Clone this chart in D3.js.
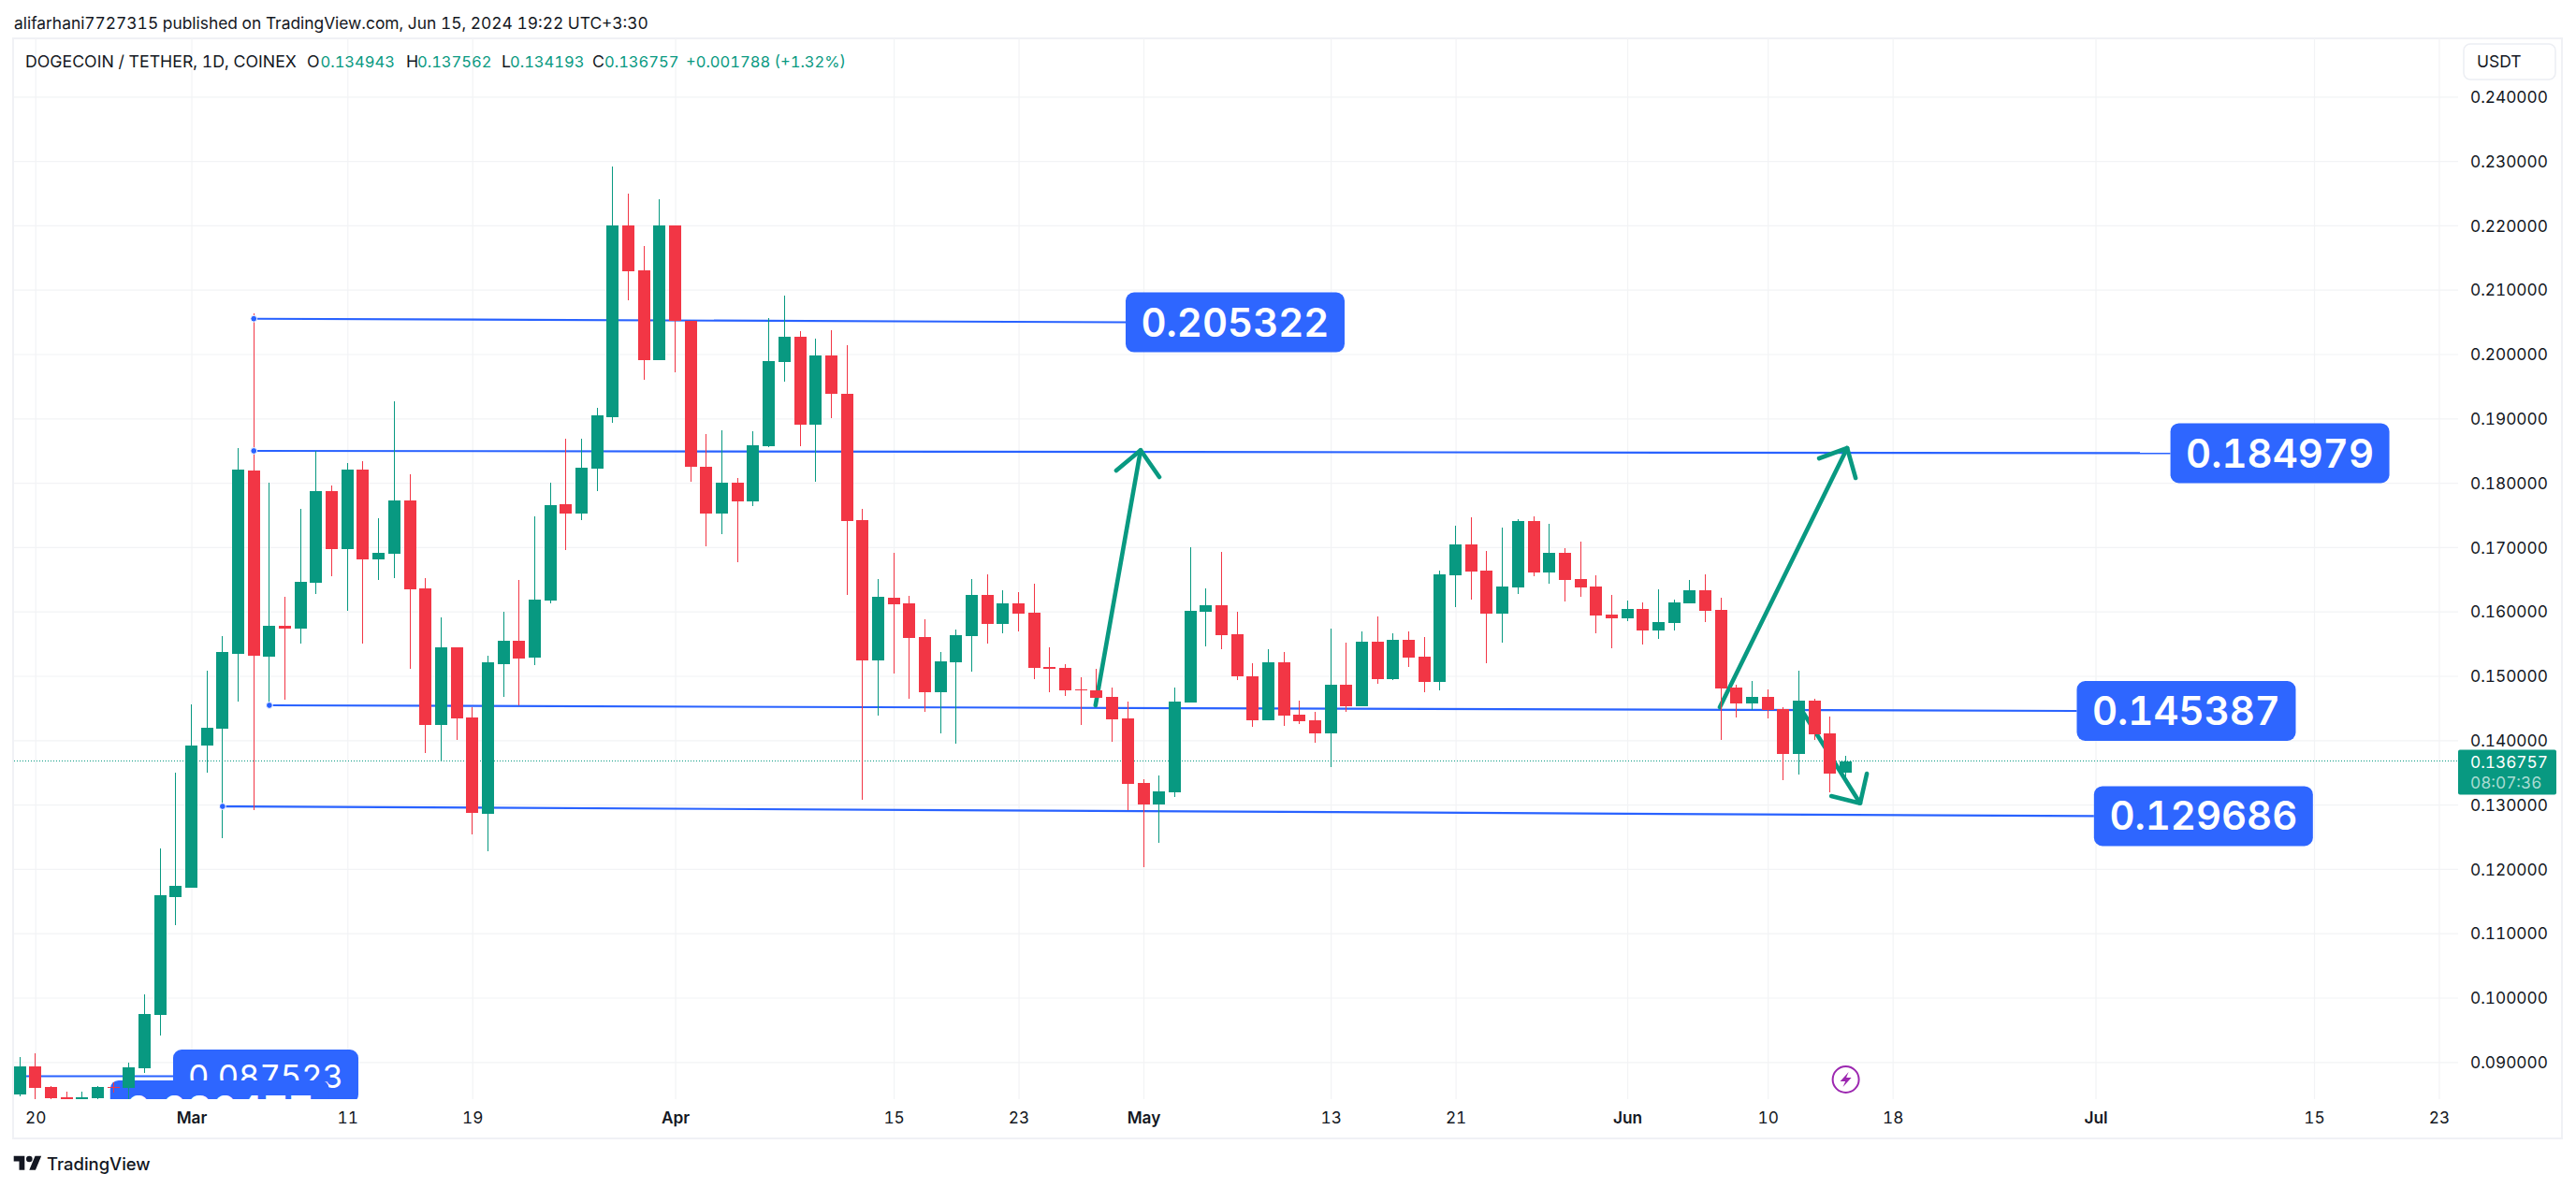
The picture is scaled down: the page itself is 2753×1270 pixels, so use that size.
<!DOCTYPE html>
<html><head><meta charset="utf-8">
<script src="https://cdn.jsdelivr.net/npm/d3@7/dist/d3.min.js"></script>
<style>html,body{margin:0;padding:0;background:#fff}svg{display:block}text{font-family:Inter,sans-serif;fill:#131722;font-variant-numeric:tabular-nums}</style>
</head><body><div id="c"></div>
<script>
const openPrices=[.08496,.08932,.08612,.08452,.08351,.08438,.08612,.08597,.08903,.09731,.11563,
.11708,.13917,.14179,.15342,.18190,.15298,.15778,.15734,.16446,.17871,.16969,.18205,.16810,.16897,.17725,.16359,.14237,.15443,.14353,.12856,.15182,.15545,.15284,.16170,.17667,.17522,.18220,.19019,.21998,.21301,.19906,
.21998,.20516,.18249,.17522,.18002,.17711,.18568,.19876,.20269,.18903,.19978,.19382,.17420,.15240,.16214,.16127,.15603,.14746,.15211,.15618,.16257,.15807,.16127,.15981,.15138,.15124,.14790,.14775,.14673,.14339,
.13336,.13001,.13190,.14586,.15996,.16097,.15647,.14993,.14310,.15211,.14397,.14310,.14106,.14862,.14528,.15531,.14949,.15560,.15298,.14906,.16563,.17042,.16635,.15967,.16374,.17406,.16606,.16911,.16504,.16388,.15952,
.15894,.16039,.15704,.15821,.16127,.16330,.16025,.14818,.14571,.14673,.14484,.13786,.14615,.14106,.134943];
const highPrices=[.09077,.09135,.08626,.08539,.08539,.08626,.08685,.08990,.10051,.12318,.13496,
.14557,.15080,.15618,.18539,.20632,.18002,.16228,.17595,.18496,.17958,.18307,.18336,.17449,.19266,.18132,.16519,.15908,.15443,.14513,.15313,.15996,.16490,.17478,.18002,.18685,.18685,.19164,.22914,.22493,.21679,.22406,
.21998,.20516,.18757,.18815,.18074,.18801,.20560,.20908,.20356,.20240,.20371,.20138,.17595,.16504,.16911,.16243,.15880,.15371,.15719,.16504,.16577,.16330,.16301,.16432,.15443,.15182,.14978,.15109,.14818,.14600,
.13394,.13452,.14818,.16999,.16359,.16926,.15996,.15196,.15414,.15371,.14615,.14441,.15734,.15516,.15690,.15923,.15661,.15690,.15603,.16635,.17333,.17464,.16940,.17304,.17435,.17478,.17362,.16984,.17086,.16563,.16257,
.16170,.16141,.16345,.16185,.16490,.16577,.16214,.14862,.14920,.14790,.14513,.15080,.14644,.14368,.137562];
const lowPrices=[.08467,.08380,.08380,.08322,.08322,.08409,.08525,.08380,.08830,.09411,.11126,
.11708,.13496,.12478,.14600,.12914,.14542,.14629,.15502,.16272,.16548,.16010,.15502,.16490,.16519,.15109,.13801,.13685,.14004,.12536,.12275,.14673,.14542,.15167,.16127,.16955,.17420,.17871,.18932,.20836,.19600,.19906,
.19716,.18016,.17013,.17202,.16766,.17638,.18554,.19571,.18568,.18016,.19005,.16257,.13074,.14382,.15036,.14644,.14441,.14106,.13946,.15066,.15502,.15661,.15690,.14949,.14746,.14688,.14237,.14659,.13975,.12914,
.12028,.12405,.13118,.14586,.15458,.15414,.14935,.14208,.14310,.14222,.14252,.13961,.13583,.14441,.14528,.14876,.14935,.15138,.14746,.14775,.16068,.16185,.15196,.15516,.16272,.16548,.16432,.16156,.16228,.15661,.15429,
.15850,.15487,.15574,.15704,.16127,.15836,.14004,.14353,.14469,.14339,.13379,.13467,.14004,.13190,.134193];
const closePrices=[.08932,.08597,.08438,.08351,.08452,.08612,.08597,.08917,.09746,.11592,.11737,
.13917,.14194,.15371,.18205,.15313,.15778,.15734,.16461,.17871,.16969,.18205,.16810,.16911,.17725,.16345,.14237,.15443,.14339,.12870,.15211,.15545,.15269,.16185,.17653,.17522,.18234,.19048,.21998,.21286,.19906,.21998,
.20516,.18249,.17522,.18002,.17711,.18583,.19891,.20269,.18903,.19978,.19382,.17406,.15240,.16228,.16112,.15589,.14746,.15225,.15632,.16257,.15807,.16127,.15967,.15124,.15124,.14775,.14775,.14659,.14324,.13321,
.13001,.13205,.14600,.16010,.16097,.15632,.14993,.14310,.15211,.14382,.14295,.14106,.14862,.14528,.15531,.14949,.15560,.15284,.14906,.16577,.17042,.16621,.15967,.16388,.17406,.16606,.16911,.16490,.16374,.15938,.15894,
.16039,.15704,.15836,.16141,.16330,.16010,.14804,.14571,.14673,.14469,.13786,.14615,.14092,.13482,.136757];

const firstDay=new Date(Date.UTC(2024,1,19));
const dates=d3.utcDay.range(firstDay,d3.utcDay.offset(firstDay,openPrices.length));
const day=(m,d)=>new Date(Date.UTC(2024,m,d));
const dayAt=n=>day(2,1).getTime()+n*864e5;

const priceTicks=[.24,.23,.22,.21,.20,.19,.18,.17,.16,.15,.14,.13,.12,.11,.10,.09];
const timeTicks=[day(1,20),day(2,1),day(2,11),day(2,19),day(3,1),day(3,15),day(3,23),day(4,1),day(4,13),day(4,21),day(5,1),day(5,10),day(5,18),day(6,1),day(6,15),day(6,23)];
const boldMonths=["Mar","Apr","May","Jun","Jul"];

// drawings: [days after Mar 1, price]
const levelLines=[
 {from:[4,.20549],to:[59.86,.20494],label:"0.205322"},
 {from:[4,.18496],to:[126.8,.18460],label:"0.184979"},
 {from:[5,.14542],to:[120.8,.14455],label:"0.145387"},
 {from:[2,.12972],to:[121.9,.12821],label:"0.129686"}
];
const clippedLevels=[
 {from:[-12,.08779],to:[-1.17,.08779],label:"0.087523"},
 {from:[-12,.08249],to:[-5.2,.08249],label:"0.080477"}
];
const arrows=[
 {start:[57.93,.14542],tip:[60.82,.18507],left:[59.26,.18190],right:[62.02,.18089]},
 {start:[97.93,.14513],tip:[106.09,.18539],left:[104.29,.18379],right:[106.63,.18074]},
 {start:[103.32,.14411],tip:[106.92,.13021],left:[105.07,.13132],right:[107.35,.13481]}
];
const header="alifarhani7727315 published on TradingView.com, Jun 15, 2024 19:22 UTC+3:30";
const legendTitle="DOGECOIN / TETHER, 1D, COINEX";
const ohlc=[["O","0.134943",328,342.5],["H","0.137562",434,446],["L","0.134193",536,545],["C","0.136757",633,646]];
const legendChange="+0.001788 (+1.32%)";
const lastPrice=.136757, countdown="08:07:36";

const W=2753,H=1270,paneL=15,paneR=2627,paneT=41,paneB=1175;
const green="#089981",red="#f23645",blue="#2962ff",tagBlue="#2e66ff",gridC="#f2f3f5";
const x=d3.scaleUtc().domain([day(2,1),day(6,1)]).range([204.5,2239.5]);
const y=d3.scaleLinear().domain([.09,.24]).range([1135.3,103.3]);
const xd=n=>x(new Date(dayAt(n)));
const bx=p=>xd(p[0]), by=p=>y(p[1]);

// set a text's font size so it spans the width measured on the reference
function fit(sel,w){
 sel.each(function(){
  const len=this.getComputedTextLength();
  const fs=parseFloat(d3.select(this).attr("font-size"));
  d3.select(this).attr("font-size",fs*w/len);
 });
 return sel;
}

const svg=d3.select("#c").append("svg").attr("width",W).attr("height",H);
svg.append("rect").attr("width",W).attr("height",H).attr("fill","#fff");
svg.append("defs").append("clipPath").attr("id","pane").append("rect")
 .attr("x",paneL).attr("y",paneT).attr("width",paneR-paneL).attr("height",paneB-paneT);

// frame
svg.append("rect").attr("x",14).attr("y",41).attr("width",2724).attr("height",1176)
 .attr("fill","none").attr("stroke","#f0f1f5").attr("stroke-width",2);

// grid via axes
const gridY=svg.append("g").attr("transform",`translate(${paneL},0)`)
 .call(d3.axisRight(y).tickValues(priceTicks).tickSize(paneR-paneL).tickFormat(""));
const gridX=svg.append("g").attr("transform",`translate(0,${paneT})`)
 .call(d3.axisBottom(x).tickValues(timeTicks).tickSize(paneB-paneT).tickFormat(""));
[gridY,gridX].forEach(g=>{g.select(".domain").remove();g.selectAll("line").attr("stroke",gridC).attr("stroke-width",1.2);});

const pane=svg.append("g").attr("clip-path","url(#pane)");

// last price dotted line
pane.append("line").attr("x1",paneL).attr("x2",paneR).attr("y1",y(lastPrice)).attr("y2",y(lastPrice))
 .attr("stroke",green).attr("stroke-width",1).attr("stroke-dasharray","1 2").attr("shape-rendering","crispEdges");

// level lines
pane.selectAll("line.lvl").data(levelLines.concat(clippedLevels)).join("line").attr("class","lvl")
 .attr("x1",d=>bx(d.from)).attr("y1",d=>by(d.from)).attr("x2",d=>bx(d.to)).attr("y2",d=>by(d.to))
 .attr("stroke",blue).attr("stroke-width",2.2);

// arrows
const arrowG=pane.selectAll("g.arrow").data(arrows).join("g").attr("class","arrow")
 .attr("fill","none").attr("stroke",green).attr("stroke-width",4.6).attr("stroke-linecap","round").attr("stroke-linejoin","round");
arrowG.append("path").attr("d",d=>`M${bx(d.start)},${by(d.start)}L${bx(d.tip)},${by(d.tip)}`);
arrowG.append("path").attr("d",d=>`M${bx(d.left)},${by(d.left)}L${bx(d.tip)},${by(d.tip)}L${bx(d.right)},${by(d.right)}`);

// labels
function box(g,d,w,h,fw,tw){
 const cy=by(d.to),lx=bx(d.to);
 g.append("rect").attr("x",lx).attr("y",cy-h/2).attr("width",w).attr("height",h).attr("rx",9).attr("fill",tagBlue);
 const t=g.append("text").attr("x",lx+w/2).attr("y",cy).attr("dy",".36em").attr("text-anchor","middle")
  .attr("font-size",40).attr("font-weight",fw).style("fill","#fff").text(d.label);
 fit(t,tw);
}
levelLines.forEach(d=>box(pane.append("g"),d,234,64,600,201));
box(pane.append("g"),clippedLevels[0],198,57,400,166);
box(pane.append("g"),clippedLevels[1],234,64,600,201);

// candles
const cdata=dates.map((d,i)=>({d,o:openPrices[i],h:highPrices[i],l:lowPrices[i],c:closePrices[i]}));
const cw=13;
const cg=pane.selectAll("g.candle").data(cdata).join("g").attr("class","candle").attr("shape-rendering","crispEdges");
const col=d=>d.c>=d.o?green:red;
cg.append("line").attr("x1",d=>x(d.d)).attr("x2",d=>x(d.d)).attr("y1",d=>y(d.h)).attr("y2",d=>y(d.l))
 .attr("stroke",col).attr("stroke-width",1);
cg.append("rect").attr("x",d=>x(d.d)-cw/2).attr("width",cw)
 .attr("y",d=>y(Math.max(d.o,d.c))).attr("height",d=>Math.max(1.5,Math.abs(y(d.o)-y(d.c)))).attr("fill",col);

// anchor dots
pane.selectAll("circle.dot").data(levelLines).join("circle").attr("class","dot")
 .attr("cx",d=>bx(d.from)).attr("cy",d=>by(d.from)).attr("r",3.4).attr("fill",blue).attr("stroke","#fff").attr("stroke-width",1);

// price axis
const ya=svg.append("g").attr("transform",`translate(${paneR},0)`)
 .call(d3.axisRight(y).tickValues(priceTicks).tickSize(0).tickPadding(13).tickFormat(d3.format(".6f")));
ya.select(".domain").remove();
ya.selectAll("text").attr("font-size",18).style("font-family","Inter,sans-serif").style("fill","#131722").attr("dy",".36em");
fit(ya.selectAll("text"),83);

// time axis
const fmt=d=>{const m=d3.utcFormat("%b")(d);return d.getUTCDate()===1?m:d3.utcFormat("%-d")(d);};
const xa=svg.append("g").attr("transform",`translate(0,${paneB})`)
 .call(d3.axisBottom(x).tickValues(timeTicks).tickSize(0).tickPadding(14).tickFormat(fmt));
xa.select(".domain").remove();
const tickFs=+ya.select("text").attr("font-size");
xa.selectAll("text").attr("font-size",tickFs).style("font-family","Inter,sans-serif").style("fill","#131722")
 .attr("font-weight",function(){return boldMonths.includes(this.textContent)?600:400;});

// last price tag
const tagY=y(lastPrice)-12;
svg.append("rect").attr("x",paneR).attr("y",tagY).attr("width",105).attr("height",48).attr("rx",2).attr("fill",green);
svg.append("text").attr("x",paneR+13).attr("y",tagY+19).attr("font-size",tickFs).style("fill","#fff").text(d3.format(".6f")(lastPrice));
svg.append("text").attr("x",paneR+13).attr("y",tagY+41).attr("font-size",tickFs).style("fill","#a9dcd3").text(countdown);

// USDT button
svg.append("rect").attr("x",2633).attr("y",47).attr("width",98).attr("height",38).attr("rx",7).attr("fill","#fff").attr("stroke","#eceef3").attr("stroke-width",1.5);
fit(svg.append("text").attr("x",2647).attr("y",72).attr("font-size",18).text("USDT"),47.6);

// header + legend
fit(svg.append("text").attr("x",15).attr("y",31).attr("font-size",18).text(header),678);
const title=fit(svg.append("text").attr("x",27).attr("y",72).attr("font-size",18).text(legendTitle),290);
const legFs=+title.attr("font-size");
ohlc.forEach(([k,v,kx,vx])=>{
 svg.append("text").attr("x",kx).attr("y",72).attr("font-size",legFs).text(k);
 fit(svg.append("text").attr("x",vx).attr("y",72).attr("font-size",18).style("fill",green).text(v),79.5);
});
fit(svg.append("text").attr("x",733).attr("y",72).attr("font-size",18).style("fill",green).text(legendChange),171);

// bolt
const bolt=svg.append("g").attr("transform",`translate(${x(day(5,15))},1154)`);
bolt.append("circle").attr("r",14).attr("fill","#fff").attr("stroke","#9c27b0").attr("stroke-width",2);
bolt.append("path").attr("d","M3,-8L-6,2H-0.5L-3,8L6,-2H0.5Z").attr("fill","#9c27b0");

// logo
const logo=svg.append("g").attr("transform","translate(14.7,1232.4) scale(.83)");
logo.append("path").attr("d","M14 22H7V11H0V4h14v18zM28 22h-8l7.5-18h8L28 22z").attr("fill","#131722");
logo.append("circle").attr("cx",20).attr("cy",8).attr("r",4).attr("fill","#131722");
fit(svg.append("text").attr("x",50).attr("y",1251).attr("font-size",19).attr("font-weight",500).text("TradingView"),110.7);
</script></body></html>
